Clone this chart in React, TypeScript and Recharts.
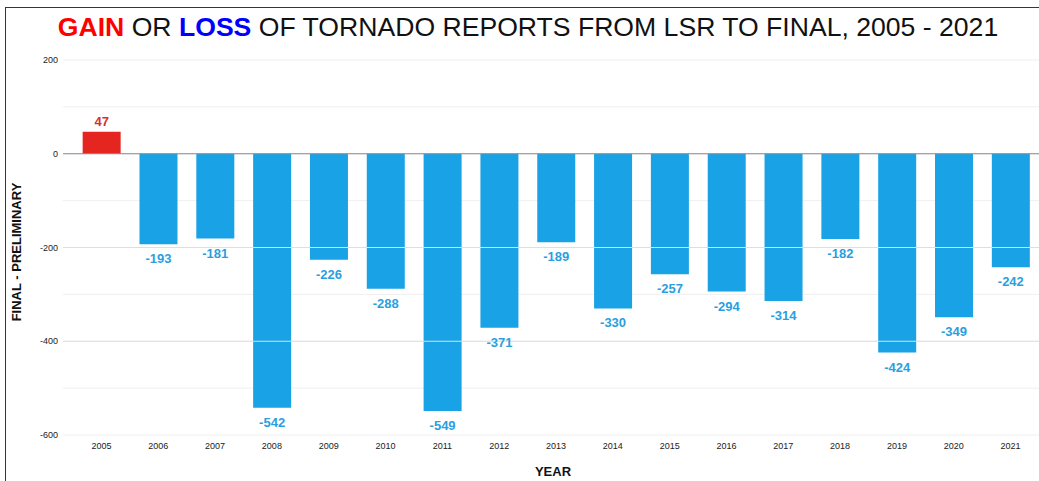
import React from 'react';
import { BarChart, Bar, XAxis, YAxis, CartesianGrid, ReferenceLine, LabelList, Cell } from 'recharts';

const years = ['2005','2006','2007','2008','2009','2010','2011','2012','2013','2014','2015','2016','2017','2018','2019','2020','2021'];
const diffs = [47,-193,-181,-542,-226,-288,-549,-371,-189,-330,-257,-294,-314,-182,-424,-349,-242];
const yTicks = [200,100,0,-100,-200,-300,-400,-500,-600];

const data = years.map((y, i) => ({ year: y, value: diffs[i] }));

const BLUE = '#1aa2e6';
const RED = '#e52620';
const FONT = '"Liberation Sans", Arial, sans-serif';

const BarLabel = (props: any) => {
  const { x, y, width, height, value } = props;
  const top = Math.min(y, y + height);
  const bottom = Math.max(y, y + height);
  const cx = x + width / 2;
  if (value >= 0) {
    return <text x={cx} y={top - 6} textAnchor="middle" fontFamily={FONT} fontWeight="bold" fontSize={13} fill="#d9302a">{value}</text>;
  }
  return <text x={cx} y={bottom + 19} textAnchor="middle" fontFamily={FONT} fontWeight="bold" fontSize={13} fill="#2a9fe0">{value}</text>;
};

export default function App() {
  return (
    <div style={{ position: 'fixed', left: 0, top: 0, width: 1039, height: 481, background: '#fff', overflow: 'hidden', fontFamily: FONT }}>
      <div style={{ position: 'absolute', left: 5, top: 7, width: 1040, height: 480, borderLeft: '1.5px solid #2a3366', borderTop: '1.5px solid #2a3366' }} />
      <div style={{ position: 'absolute', left: 0, top: 11, width: 1056, textAlign: 'center', fontSize: 26.6, lineHeight: '32px', color: '#111', whiteSpace: 'nowrap' }}>
        <span style={{ color: '#ff0000', fontWeight: 'bold' }}>GAIN</span> OR <span style={{ color: '#0000ff', fontWeight: 'bold' }}>LOSS</span> OF TORNADO REPORTS FROM LSR TO FINAL, 2005 - 2021
      </div>
      <div style={{ position: 'absolute', left: 553 - 40, top: 463, width: 80, textAlign: 'center', fontSize: 13, fontWeight: 'bold', color: '#111', lineHeight: '18px' }}>YEAR</div>
      <div style={{ position: 'absolute', left: 17 - 90, top: 252 - 9, width: 180, height: 18, textAlign: 'center', fontSize: 13, fontWeight: 'bold', color: '#111', lineHeight: '18px', transform: 'rotate(-90deg)', whiteSpace: 'nowrap' }}>FINAL - PRELIMINARY</div>
      <div style={{ position: 'absolute', left: 0, top: 0 }}>
        <BarChart width={1039} height={481} data={data} margin={{ top: 60, right: 0, bottom: 16, left: 0 }} barCategoryGap="17%">
          <CartesianGrid vertical={false} stroke="#efefef" />
          <ReferenceLine y={-200} stroke="#dedede" />
          <ReferenceLine y={-400} stroke="#dedede" />
          <XAxis dataKey="year" axisLine={false} tickLine={false} height={30} padding={{ left: 10, right: 0 }} tick={{ fontSize: 9, fill: '#222', fontFamily: FONT }} tickMargin={2} />
          <YAxis type="number" domain={[-600, 200]} ticks={yTicks} width={63} axisLine={false} tickLine={false} tickSize={3} tickMargin={2} tick={{ fontSize: 9, fill: '#222', fontFamily: FONT }} tickFormatter={(v: number) => (v % 200 === 0 ? String(v) : '')} interval={0} />
          <ReferenceLine y={0} stroke="#8a8a8a" strokeWidth={1.2} />
          <Bar dataKey="value" isAnimationActive={false}>
            {data.map((d, i) => <Cell key={i} fill={d.value >= 0 ? RED : BLUE} />)}
            <LabelList dataKey="value" content={BarLabel} />
          </Bar>
        </BarChart>
      </div>
    </div>
  );
}
